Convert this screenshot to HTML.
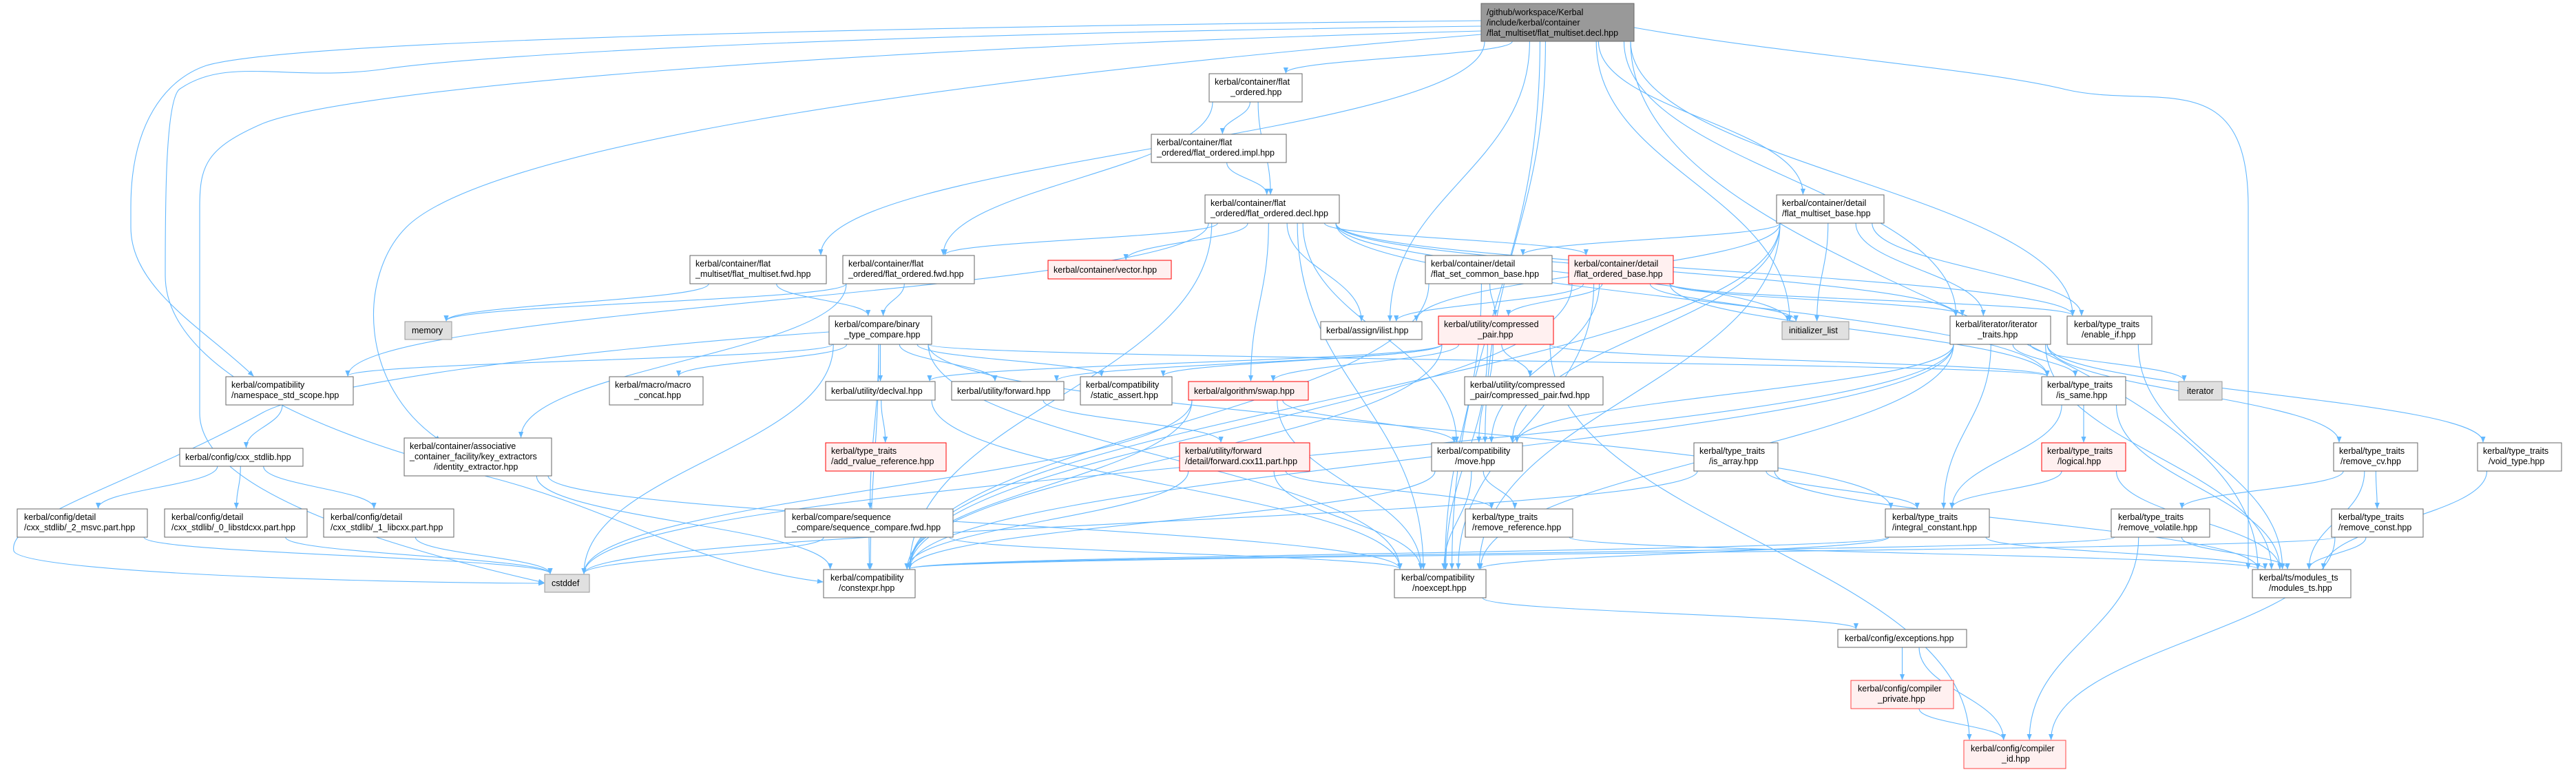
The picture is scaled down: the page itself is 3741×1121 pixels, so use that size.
<!DOCTYPE html>
<html><head><meta charset="utf-8"><style>
html,body{margin:0;padding:0;background:#fff;}
svg{display:block;}
text{font-family:"Liberation Sans",Arial,sans-serif;font-size:12.5px;fill:#000;}
</style></head><body>
<svg id="g" width="3741" height="1121" viewBox="0 0 3741 1121" xmlns="http://www.w3.org/2000/svg">
<defs><marker id="a" viewBox="0 0 10 10" refX="9" refY="5" markerWidth="9" markerHeight="9" markerUnits="userSpaceOnUse" orient="auto"><path d="M0,1 L10,5 L0,9 z" fill="#63b8ff"/></marker></defs>
<g id="edges" fill="none" stroke="#63b8ff" stroke-width="1.1"></g>
<g id="nodes">
<rect x="2151" y="5" width="222" height="55" fill="#999" stroke="#666"/><text x="2159" y="22">/github/workspace/Kerbal</text><text x="2159" y="37">/include/kerbal/container</text><text x="2159" y="52">/flat_multiset/flat_multiset.decl.hpp</text>
<rect x="1756" y="107" width="135" height="41" fill="#fff" stroke="#666"/><text x="1764" y="123">kerbal/container/flat</text><text x="1787" y="138">_ordered.hpp</text>
<rect x="1672" y="195" width="196" height="41" fill="#fff" stroke="#666"/><text x="1680" y="211">kerbal/container/flat</text><text x="1680" y="226">_ordered/flat_ordered.impl.hpp</text>
<rect x="1750" y="283" width="195" height="41" fill="#fff" stroke="#666"/><text x="1758" y="299">kerbal/container/flat</text><text x="1758" y="314">_ordered/flat_ordered.decl.hpp</text>
<rect x="2580" y="283" width="156" height="41" fill="#fff" stroke="#666"/><text x="2588" y="299">kerbal/container/detail</text><text x="2588" y="314">/flat_multiset_base.hpp</text>
<rect x="1002" y="371" width="198" height="41" fill="#fff" stroke="#666"/><text x="1010" y="387">kerbal/container/flat</text><text x="1010" y="402">_multiset/flat_multiset.fwd.hpp</text>
<rect x="1224" y="371" width="191" height="41" fill="#fff" stroke="#666"/><text x="1232" y="387">kerbal/container/flat</text><text x="1232" y="402">_ordered/flat_ordered.fwd.hpp</text>
<rect x="1522" y="378" width="179" height="27" fill="#fff0f0" stroke="#f00"/><text x="1530" y="396">kerbal/container/vector.hpp</text>
<rect x="2070" y="371" width="184" height="41" fill="#fff" stroke="#666"/><text x="2078" y="387">kerbal/container/detail</text><text x="2078" y="402">/flat_set_common_base.hpp</text>
<rect x="2278" y="371" width="152" height="41" fill="#fff0f0" stroke="#f00"/><text x="2286" y="387">kerbal/container/detail</text><text x="2286" y="402">/flat_ordered_base.hpp</text>
<rect x="588" y="467" width="68" height="26" fill="#e0e0e0" stroke="#999"/><text x="598" y="484">memory</text>
<rect x="1204" y="459" width="149" height="41" fill="#fff" stroke="#666"/><text x="1212" y="475">kerbal/compare/binary</text><text x="1226" y="490">_type_compare.hpp</text>
<rect x="1918" y="467" width="147" height="26" fill="#fff" stroke="#666"/><text x="1926" y="484">kerbal/assign/ilist.hpp</text>
<rect x="2089" y="459" width="167" height="41" fill="#fff0f0" stroke="#f00"/><text x="2097" y="475">kerbal/utility/compressed</text><text x="2146" y="490">_pair.hpp</text>
<rect x="2588" y="467" width="97" height="26" fill="#e0e0e0" stroke="#999"/><text x="2598" y="484">initializer_list</text>
<rect x="2832" y="459" width="146" height="41" fill="#fff" stroke="#666"/><text x="2840" y="475">kerbal/iterator/iterator</text><text x="2872" y="490">_traits.hpp</text>
<rect x="3002" y="459" width="123" height="41" fill="#fff" stroke="#666"/><text x="3012" y="475">kerbal/type_traits</text><text x="3023" y="490">/enable_if.hpp</text>
<rect x="328" y="547" width="185" height="41" fill="#fff" stroke="#666"/><text x="336" y="563">kerbal/compatibility</text><text x="336" y="578">/namespace_std_scope.hpp</text>
<rect x="885" y="547" width="136" height="41" fill="#fff" stroke="#666"/><text x="893" y="563">kerbal/macro/macro</text><text x="921" y="578">_concat.hpp</text>
<rect x="1199" y="554" width="159" height="27" fill="#fff" stroke="#666"/><text x="1207" y="572">kerbal/utility/declval.hpp</text>
<rect x="1382" y="554" width="163" height="27" fill="#fff" stroke="#666"/><text x="1390" y="572">kerbal/utility/forward.hpp</text>
<rect x="1569" y="547" width="133" height="41" fill="#fff" stroke="#666"/><text x="1577" y="563">kerbal/compatibility</text><text x="1584" y="578">/static_assert.hpp</text>
<rect x="1726" y="554" width="174" height="27" fill="#fff0f0" stroke="#f00"/><text x="1734" y="572">kerbal/algorithm/swap.hpp</text>
<rect x="2127" y="547" width="201" height="41" fill="#fff" stroke="#666"/><text x="2135" y="563">kerbal/utility/compressed</text><text x="2135" y="578">_pair/compressed_pair.fwd.hpp</text>
<rect x="2965" y="547" width="122" height="41" fill="#fff" stroke="#666"/><text x="2973" y="563">kerbal/type_traits</text><text x="2986" y="578">/is_same.hpp</text>
<rect x="3164" y="554" width="63" height="27" fill="#e0e0e0" stroke="#999"/><text x="3176" y="572">iterator</text>
<rect x="587" y="636" width="214" height="55" fill="#fff" stroke="#666"/><text x="595" y="652">kerbal/container/associative</text><text x="595" y="667">_container_facility/key_extractors</text><text x="630" y="682">/identity_extractor.hpp</text>
<rect x="261" y="651" width="179" height="26" fill="#fff" stroke="#666"/><text x="269" y="668">kerbal/config/cxx_stdlib.hpp</text>
<rect x="1199" y="643" width="175" height="41" fill="#fff0f0" stroke="#f00"/><text x="1207" y="659">kerbal/type_traits</text><text x="1207" y="674">/add_rvalue_reference.hpp</text>
<rect x="1713" y="643" width="189" height="41" fill="#fff0f0" stroke="#f00"/><text x="1721" y="659">kerbal/utility/forward</text><text x="1721" y="674">/detail/forward.cxx11.part.hpp</text>
<rect x="2079" y="643" width="132" height="41" fill="#fff" stroke="#666"/><text x="2087" y="659">kerbal/compatibility</text><text x="2113" y="674">/move.hpp</text>
<rect x="2460" y="643" width="122" height="41" fill="#fff" stroke="#666"/><text x="2468" y="659">kerbal/type_traits</text><text x="2482" y="674">/is_array.hpp</text>
<rect x="2965" y="643" width="122" height="41" fill="#fff0f0" stroke="#f00"/><text x="2973" y="659">kerbal/type_traits</text><text x="2988" y="674">/logical.hpp</text>
<rect x="3389" y="643" width="122" height="41" fill="#fff" stroke="#666"/><text x="3397" y="659">kerbal/type_traits</text><text x="3399" y="674">/remove_cv.hpp</text>
<rect x="3598" y="643" width="122" height="41" fill="#fff" stroke="#666"/><text x="3606" y="659">kerbal/type_traits</text><text x="3614" y="674">/void_type.hpp</text>
<rect x="25" y="739" width="189" height="41" fill="#fff" stroke="#666"/><text x="35" y="755">kerbal/config/detail</text><text x="35" y="770">/cxx_stdlib/_2_msvc.part.hpp</text>
<rect x="239" y="739" width="207" height="41" fill="#fff" stroke="#666"/><text x="249" y="755">kerbal/config/detail</text><text x="249" y="770">/cxx_stdlib/_0_libstdcxx.part.hpp</text>
<rect x="470" y="739" width="189" height="41" fill="#fff" stroke="#666"/><text x="480" y="755">kerbal/config/detail</text><text x="480" y="770">/cxx_stdlib/_1_libcxx.part.hpp</text>
<rect x="1140" y="739" width="244" height="41" fill="#fff" stroke="#666"/><text x="1150" y="755">kerbal/compare/sequence</text><text x="1150" y="770">_compare/sequence_compare.fwd.hpp</text>
<rect x="2128" y="739" width="156" height="41" fill="#fff" stroke="#666"/><text x="2138" y="755">kerbal/type_traits</text><text x="2138" y="770">/remove_reference.hpp</text>
<rect x="2738" y="739" width="151" height="41" fill="#fff" stroke="#666"/><text x="2748" y="755">kerbal/type_traits</text><text x="2748" y="770">/integral_constant.hpp</text>
<rect x="3066" y="739" width="143" height="41" fill="#fff" stroke="#666"/><text x="3076" y="755">kerbal/type_traits</text><text x="3076" y="770">/remove_volatile.hpp</text>
<rect x="3386" y="739" width="133" height="41" fill="#fff" stroke="#666"/><text x="3396" y="755">kerbal/type_traits</text><text x="3396" y="770">/remove_const.hpp</text>
<rect x="791" y="834" width="65" height="26" fill="#e0e0e0" stroke="#999"/><text x="801" y="851">cstddef</text>
<rect x="1196" y="827" width="133" height="41" fill="#fff" stroke="#666"/><text x="1206" y="843">kerbal/compatibility</text><text x="1218" y="858">/constexpr.hpp</text>
<rect x="2025" y="827" width="133" height="41" fill="#fff" stroke="#666"/><text x="2035" y="843">kerbal/compatibility</text><text x="2051" y="858">/noexcept.hpp</text>
<rect x="3271" y="827" width="143" height="41" fill="#fff" stroke="#666"/><text x="3281" y="843">kerbal/ts/modules_ts</text><text x="3295" y="858">/modules_ts.hpp</text>
<rect x="2669" y="914" width="187" height="26" fill="#fff" stroke="#666"/><text x="2679" y="931">kerbal/config/exceptions.hpp</text>
<rect x="2688" y="988" width="149" height="41" fill="#fff0f0" stroke="#f44"/><text x="2698" y="1004">kerbal/config/compiler</text><text x="2727" y="1019">_private.hpp</text>
<rect x="2852" y="1075" width="148" height="41" fill="#fff0f0" stroke="#f44"/><text x="2862" y="1091">kerbal/config/compiler</text><text x="2907" y="1106">_id.hpp</text>
</g>
</svg>
<script>
var N={
main:[2151,5,222,55],fo:[1756,107,135,41],impl:[1672,195,196,41],decl:[1750,283,195,41],fmb:[2580,283,156,41],
fmfwd:[1002,371,198,41],fofwd:[1224,371,191,41],vec:[1522,378,179,27],fscb:[2070,371,184,41],fob:[2278,371,152,41],
mem:[588,467,68,26],btc:[1204,459,149,41],ilist:[1918,467,147,26],cp:[2089,459,167,41],il:[2588,467,97,26],it:[2832,459,146,41],ei:[3002,459,123,41],
nss:[328,547,185,41],mc:[885,547,136,41],dv:[1199,554,159,27],fw:[1382,554,163,27],sa:[1569,547,133,41],sw:[1726,554,174,27],cpf:[2127,547,201,41],iss:[2965,547,122,41],iter:[3164,554,63,27],
ie:[587,636,214,55],cxx:[261,651,179,26],arr:[1199,643,175,41],fc:[1713,643,189,41],mv:[2079,643,132,41],ia:[2460,643,122,41],lg:[2965,643,122,41],rcv:[3389,643,122,41],vt:[3598,643,122,41],
msvc:[25,739,189,41],lstd:[239,739,207,41],lcxx:[470,739,189,41],scf:[1140,739,244,41],rr:[2128,739,156,41],ic:[2738,739,151,41],rv:[3066,739,143,41],rc:[3386,739,133,41],
cst:[791,834,65,26],ce:[1196,827,133,41],ne:[2025,827,133,41],mts:[3271,827,143,41],exc:[2669,914,187,26],cpr:[2688,988,149,41],cid:[2852,1075,148,41]};
var E=[["main","fo"],["main","fmfwd"],["main","fmb"],["main","ilist"],["main","il"],["main","it"],["main","ei"],["main","mv"],["main","ne"],["main","mts"],
["fo","impl"],["fo","decl"],["fo","fofwd"],["impl","decl"],
["decl","fofwd"],["decl","vec"],["decl","ilist"],["decl","fob"],["decl","sw"],["decl","mv"],["decl","ne"],["decl","ce"],["decl","il"],["decl","it"],["decl","ei"],["decl","nss"],["decl","iss"],
["fmfwd","mem"],["fmfwd","btc"],["fofwd","mem"],["fofwd","btc"],["fofwd","ie"],
["fmb","fscb"],["fmb","il"],["fmb","it"],["fmb","ei"],["fmb","ilist"],["fmb","mv"],["fmb","ne"],["fmb","ce"],
["fscb","cp"],["fscb","ne"],["fscb","ce"],
["fob","cp"],["fob","ilist"],["fob","il"],["fob","it"],["fob","ei"],["fob","iss"],["fob","mv"],["fob","ne"],["fob","ce"],
["btc","nss"],["btc","mc"],["btc","dv"],["btc","fw"],["btc","sa"],["btc","scf"],["btc","ce"],["btc","ne"],["btc","ic"],["btc","iss"],["btc","cst"],
["nss","cxx"],["cxx","msvc"],["cxx","lstd"],["cxx","lcxx"],["msvc","cst"],["lstd","cst"],["lcxx","cst"],
["ie","ce"],["ie","ne"],
["cp","cpf"],["cp","sw"],["cp","mv"],["cp","sa"],["cp","fw"],["cp","dv"],["cp","ne"],["cp","ce"],["cp","iss"],["cp","cid"],
["dv","arr"],["dv","ne"],["fw","fc"],["sw","mv"],["sw","ne"],["sw","ce"],["sw","cst"],
["fc","rr"],["fc","ne"],["fc","ce"],["mv","rr"],["mv","ne"],["mv","ce"],
["ia","ic"],["ia","mts"],["ia","cst"],["scf","ce"],["scf","ne"],["scf","cst"],["rr","mts"],["ne","exc"],
["it","iss"],["it","iter"],["it","rcv"],["it","vt"],["it","ic"],["it","mts"],["it","ne"],["it","ce"],["it","mv"],["it","cst"],
["ei","mts"],["iss","lg"],["iss","ic"],["iss","mts"],["lg","ic"],["lg","mts"],["rcv","rv"],["rcv","rc"],["rcv","mts"],["vt","mts"],
["ic","mts"],["ic","ne"],["ic","ce"],["rv","mts"],["rv","cid"],["rv","ce"],["rc","mts"],["rc","cid"],["rc","ce"],
["exc","cpr"],["exc","cid"],["cpr","cid"]];
var g=document.getElementById("edges"),s="";
function P(d){s+='<path d="'+d+'" marker-end="url(#a)"/>';}
E.forEach(function(e){var a=N[e[0]],b=N[e[1]];
var ax=a[0]+a[2]/2,ab=a[1]+a[3],bx=b[0]+b[2]/2,bt=b[1];
if(bt>ab+5){var sx=ax+(bx-ax)*0.15;sx=Math.max(a[0]+5,Math.min(a[0]+a[2]-5,sx));
var tx=bx-(bx-ax)*0.1;tx=Math.max(b[0]+8,Math.min(b[0]+b[2]-8,tx));
var dy=(bt-ab)*0.45;P("M"+sx+","+ab+" C"+sx+","+(ab+dy)+" "+tx+","+(bt-dy)+" "+tx+","+(bt-1));}
else{var ay=a[1]+a[3]/2,by=b[1]+b[3]/2;var right=bx>ax;var sx=right?a[0]+a[2]:a[0],tx=right?b[0]-1:b[0]+b[2]+1;
var m=(sx+tx)/2;P("M"+sx+","+ay+" C"+m+","+ay+" "+m+","+by+" "+tx+","+by);}
});
P("M2151,30 C1200,40 420,60 300,95 C240,115 190,180 190,300 L190,330 C190,420 300,480 368,546");
P("M2151,38 C1200,50 700,80 560,100 C420,120 330,80 260,130 C240,150 240,300 240,400 C240,520 420,620 700,690 C900,740 1000,820 1195,845");
P("M2151,45 C1200,70 500,130 380,180 C300,215 290,240 290,300 L290,600 C290,700 500,780 790,846");
P("M2151,50 C1300,120 700,220 590,330 C520,400 520,560 640,640");
P("M1204,482 C800,510 450,560 380,600 C200,700 10,750 20,800 C30,830 500,846 790,847");
P("M2373,40 C2600,80 2880,100 3000,130 C3130,160 3265,90 3265,300 L3265,826");
E.length;g.innerHTML=s;
</script>
</body></html>
